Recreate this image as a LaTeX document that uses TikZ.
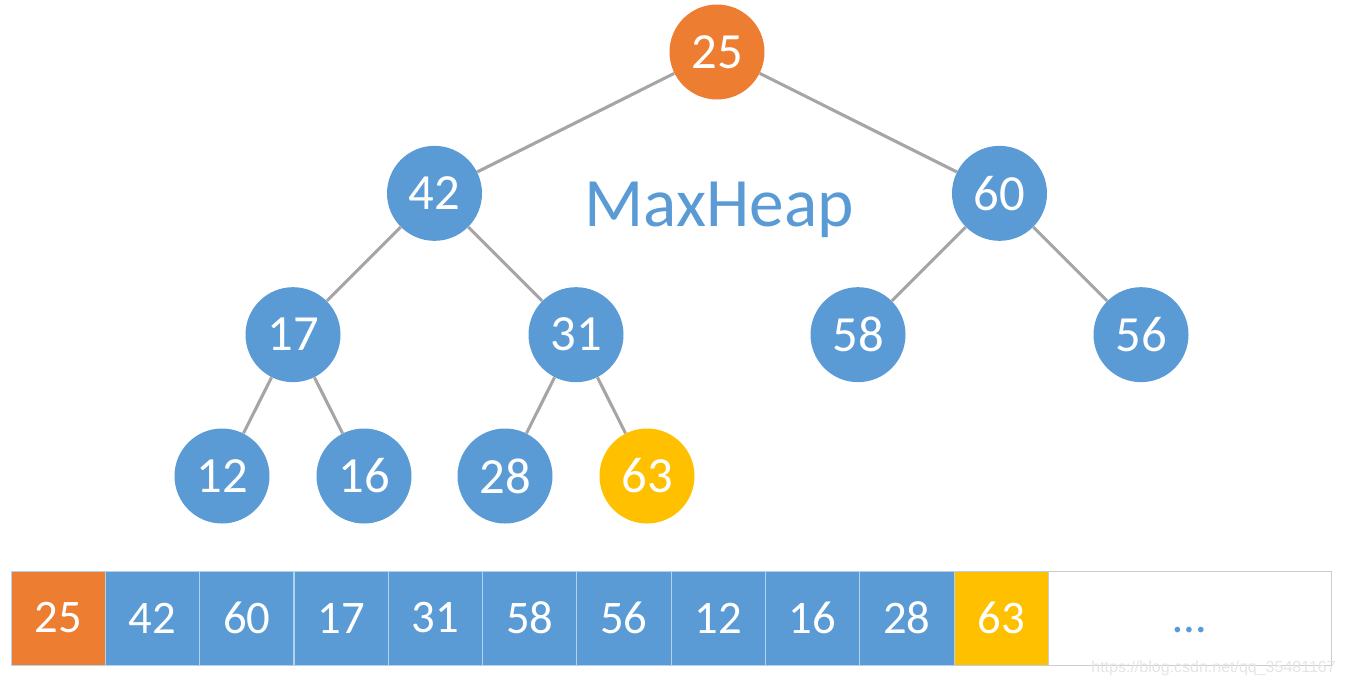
\documentclass[tikz,border=0pt]{standalone}
\usepackage{fontspec}
\setmainfont{Carlito}
\newfontfamily\markfont{Liberation Sans}
\definecolor{heaporange}{HTML}{ED7D31}
\definecolor{heapblue}{HTML}{5B9BD5}
\definecolor{heapgold}{HTML}{FFC000}
\definecolor{heapgray}{HTML}{A5A5A5}
\begin{document}
\begin{tikzpicture}[x=0.75pt, y=-0.75pt,
    heapnode/.style={circle, fill=heapblue, minimum size=71.25pt, inner sep=0pt, text=white, font=\fontsize{38}{40}\selectfont},
    cell/.style={rectangle, draw=white!55!heapblue, line width=0.6pt, minimum width=70.7pt, minimum height=70.5pt, inner sep=0pt, text=white, font=\fontsize{35}{38}\selectfont},
    edge from parent/.style={draw, heapgray, line width=2.3pt},
    level distance=106pt,
    level 1/.style={sibling distance=423.75pt},
    level 2/.style={sibling distance=212.25pt},
    level 3/.style={sibling distance=106.5pt}
]
\useasboundingbox (0,0) rectangle (1345,687);
% the heap as a tree
\node[heapnode, fill=heaporange] (n25) at (717,52) {25}
    child {
        node[heapnode] (n42) {42}
        child {
            node[heapnode] (n17) {17}
            child { node[heapnode] (n12) {12} }
            child { node[heapnode] (n16) {16} }
        }
        child {
            node[heapnode] (n31) {31}
            child { node[heapnode] (n28) {28} }
            child { node[heapnode, fill=heapgold] (n63) {63} }
        }
    }
    child {
        node[heapnode] (n60) {60}
        child { node[heapnode] (n58) {58} }
        child { node[heapnode] (n56) {56} }
    };
\node[text=heapblue, font=\fontsize{52}{54}\selectfont, anchor=base] (title) at (719,226) {MaxHeap};
% the heap as an array
\foreach \v/\c [count=\i from 0] in {25/heaporange, 42/heapblue, 60/heapblue, 17/heapblue, 31/heapblue, 58/heapblue, 56/heapblue, 12/heapblue, 16/heapblue, 28/heapblue, 63/heapgold}
    \node[cell, fill=\c] (a\i) at ({58.15+94.3*\i},618) {\v};
\node[cell, draw=black!20, fill=white, minimum width=212.25pt] (tail) at (1189.5,618) {};
\node[text=heapblue, font=\fontsize{35}{38}\selectfont, anchor=base] (dots) at (tail.center |- 0,632) {…};
\node[text=black!10, font=\markfont\fontsize{12}{13}\selectfont, anchor=east, inner sep=0pt] (mark) at (1336,668) {https://blog.csdn.net/qq\_35481167};
\end{tikzpicture}
\end{document}
